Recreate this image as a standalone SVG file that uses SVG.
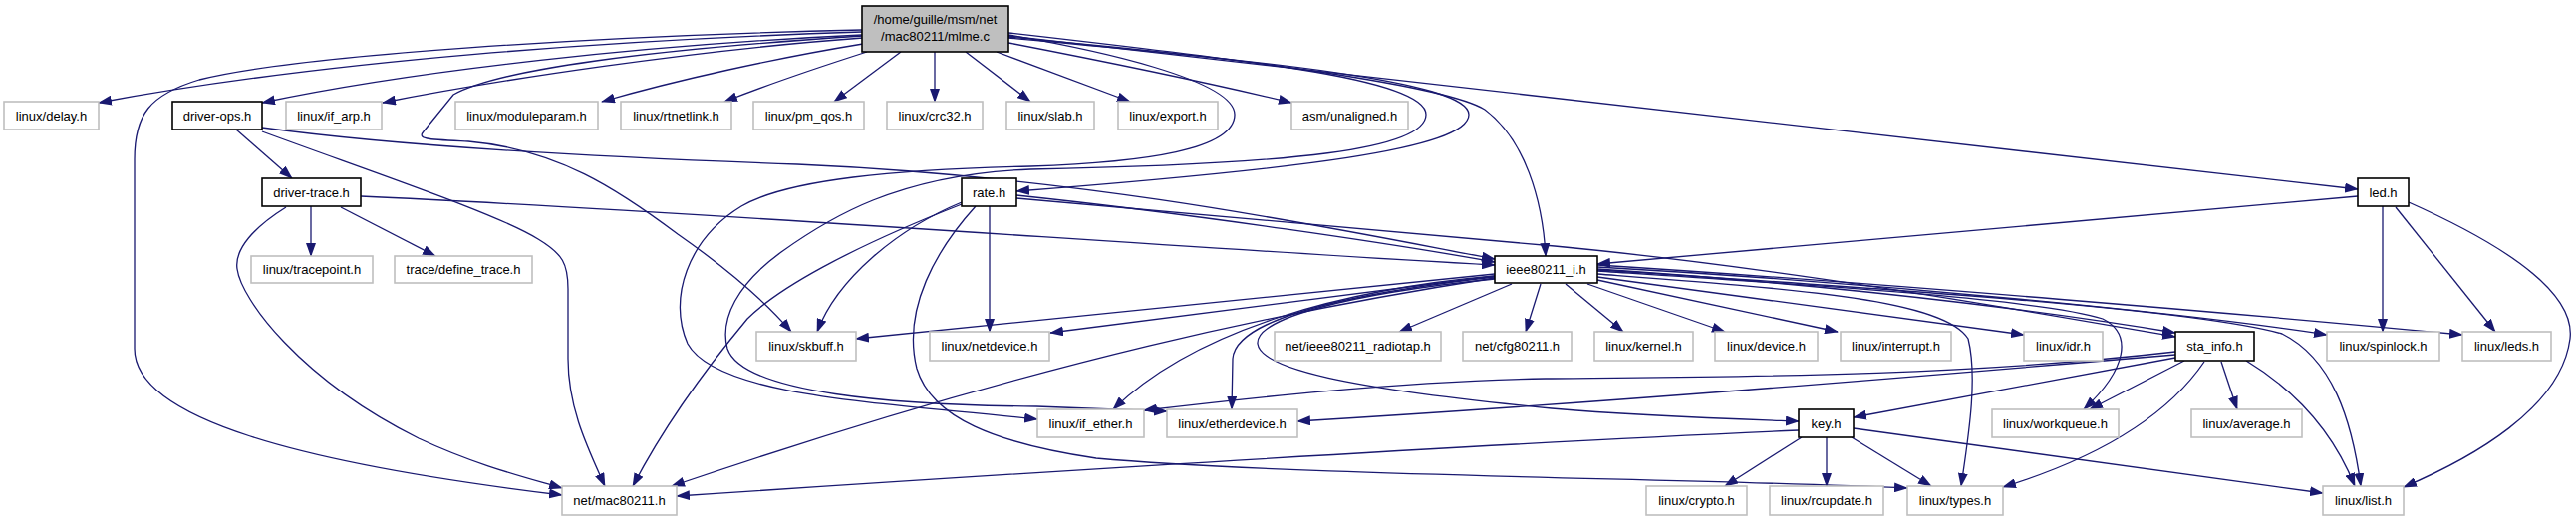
<svg xmlns="http://www.w3.org/2000/svg" width="2585" height="523" viewBox="0 0 2585 523">
<style>
.g rect{fill:#fff;stroke:#bfbfbf;stroke-width:1.6}
.b rect{fill:#fff;stroke:#000;stroke-width:1.6}
.m rect{fill:#bfbfbf;stroke:#000;stroke-width:1.6}
text{font-family:"Liberation Sans",Arial,sans-serif;font-size:13px;text-anchor:middle;fill:#000}
#edges path{fill:none;stroke:#191970;stroke-width:1.3;marker-end:url(#a)}
</style>
<defs>
<marker id="a" markerUnits="userSpaceOnUse" markerWidth="14" markerHeight="10" refX="13" refY="5" orient="auto"><path d="M0,0L14,5L0,10z" fill="#191970"/></marker>
</defs>
<rect width="2585" height="523" fill="#fff"/>
<g id="edges">
<path d="M865,32 C620,40 330,60 99,103"/>
<path d="M865,30 C600,36 300,55 200,80 C150,95 135,115 135,160 L135,350 C135,420 300,465 564,497"/>
<path d="M865,35 C650,45 420,70 263,103"/>
<path d="M866,38 C700,50 500,80 384,103"/>
<path d="M866,36 C650,50 500,70 455,95 L425,132 C418,140 430,140 470,142 C560,150 620,190 680,235 C730,270 770,305 794,333"/>
<path d="M866,44 C780,58 680,80 604,102"/>
<path d="M870,52 C820,68 770,85 727,102"/>
<path d="M904,52 L837,102"/>
<path d="M938,52 L938,102"/>
<path d="M969,52 L1034,102"/>
<path d="M1000,52 L1134,102"/>
<path d="M1012,43 C1100,60 1200,80 1296,103"/>
<path d="M1012,33 C1250,60 1450,85 1490,110 C1530,140 1548,200 1551,257"/>
<path d="M1012,36 L2366,190"/>
<path d="M1012,35 C1100,50 1239,80 1239,115 C1239,150 1150,163 1034,167 C900,170 790,180 744,207 C690,240 670,300 690,345 C720,400 900,405 1041,421"/>
<path d="M1012,37 C1200,55 1431,75 1431,115 C1431,150 1300,165 1034,170 C900,175 830,220 784,253 C740,285 722,320 730,350 C745,395 900,407 1040,408 L1171,413"/>
<path d="M1012,38 C1250,60 1474,80 1474,115 C1474,150 1300,170 1020,192"/>
<path d="M237,130 L293,179"/>
<path d="M263,132 C380,175 500,215 540,240 C565,255 570,265 570,290 L570,360 C570,410 590,450 607,488"/>
<path d="M263,128 C400,147 600,158 800,165 C1100,178 1350,232 1500,260"/>
<path d="M312,207 L312,257"/>
<path d="M342,208 L437,257"/>
<path d="M362,197 C700,212 1200,250 1500,266"/>
<path d="M287,208 C255,228 235,250 238,270 C242,300 300,380 420,440 C480,468 530,480 564,490"/>
<path d="M1020,196 C1200,215 1400,245 1500,263"/>
<path d="M1020,199 C1300,225 1500,243 1560,247 C1800,270 2050,315 2183,338"/>
<path d="M965,203 C900,230 840,280 820,333"/>
<path d="M993,207 L993,333"/>
<path d="M965,205 C850,250 780,290 750,320 C700,380 660,440 635,488"/>
<path d="M979,207 C940,250 905,310 920,370 C935,420 1000,445 1100,460 C1300,478 1700,480 1914,490"/>
<path d="M1517,285 L1404,333"/>
<path d="M1546,285 L1531,333"/>
<path d="M1571,285 L1629,333"/>
<path d="M1593,285 L1731,333"/>
<path d="M1603,281 L1844,333"/>
<path d="M1603,278 L2031,336"/>
<path d="M1603,275 C1800,290 1950,300 1975,340 C1985,380 1975,440 1968,488"/>
<path d="M1603,272 C1800,285 2050,300 2110,320 C2140,335 2135,370 2091,411"/>
<path d="M1603,270 C1900,290 2100,320 2183,334"/>
<path d="M1603,268 C1900,285 2200,315 2335,336"/>
<path d="M1603,266 C1900,285 2250,315 2471,336"/>
<path d="M1603,271 C1900,290 2200,310 2290,335 C2340,360 2360,420 2369,488"/>
<path d="M1500,275 L859,340"/>
<path d="M1500,277 L1054,334"/>
<path d="M1500,279 C1300,310 1050,360 674,488"/>
<path d="M1500,277 C1350,290 1200,330 1117,411"/>
<path d="M1500,278 C1350,295 1240,320 1237,360 L1236,411"/>
<path d="M1500,280 C1350,295 1260,320 1262,345 C1265,370 1350,390 1557,410 C1650,418 1750,421 1805,423"/>
<path d="M2366,197 L1603,265"/>
<path d="M2391,207 L2391,333"/>
<path d="M2404,208 L2504,333"/>
<path d="M2417,203 C2500,240 2585,290 2579,340 C2570,410 2480,460 2412,489"/>
<path d="M2183,359 L1860,419"/>
<path d="M2192,362 L2097,411"/>
<path d="M2229,363 L2245,411"/>
<path d="M2212,363 C2180,410 2120,455 2010,489"/>
<path d="M2254,362 C2300,390 2340,430 2363,488"/>
<path d="M2183,353 C1950,380 1700,378 1551,380 C1400,383 1250,400 1148,412"/>
<path d="M2183,356 C1900,380 1600,405 1302,423"/>
<path d="M1808,439 L1731,488"/>
<path d="M1833,439 L1833,488"/>
<path d="M1858,439 L1938,488"/>
<path d="M1860,430 L2331,495"/>
<path d="M1805,432 C1500,445 1100,470 679,498"/>
</g>
<g id="n_main" class="m"><rect x="865" y="6" width="147" height="46"/><text x="938.5" y="24">/home/guille/msm/net</text><text x="938.5" y="41">/mac80211/mlme.c</text></g>
<g id="n_delay" class="g"><rect x="4" y="102" width="95" height="28"/><text x="51.5" y="121">linux/delay.h</text></g>
<g id="n_driverops" class="b"><rect x="173" y="102" width="90" height="28"/><text x="218" y="121">driver-ops.h</text></g>
<g id="n_ifarp" class="g"><rect x="287" y="102" width="96" height="28"/><text x="335" y="121">linux/if_arp.h</text></g>
<g id="n_moduleparam" class="g"><rect x="457" y="102" width="143" height="28"/><text x="528.5" y="121">linux/moduleparam.h</text></g>
<g id="n_rtnetlink" class="g"><rect x="623" y="102" width="111" height="28"/><text x="678.5" y="121">linux/rtnetlink.h</text></g>
<g id="n_pmqos" class="g"><rect x="756" y="102" width="111" height="28"/><text x="811.5" y="121">linux/pm_qos.h</text></g>
<g id="n_crc32" class="g"><rect x="890" y="102" width="96" height="28"/><text x="938" y="121">linux/crc32.h</text></g>
<g id="n_slab" class="g"><rect x="1010" y="102" width="88" height="28"/><text x="1054" y="121">linux/slab.h</text></g>
<g id="n_export" class="g"><rect x="1122" y="102" width="100" height="28"/><text x="1172" y="121">linux/export.h</text></g>
<g id="n_unaligned" class="g"><rect x="1296" y="102" width="117" height="28"/><text x="1354.5" y="121">asm/unaligned.h</text></g>
<g id="n_drivertrace" class="b"><rect x="263" y="179" width="99" height="28"/><text x="312.5" y="198">driver-trace.h</text></g>
<g id="n_rate" class="b"><rect x="965" y="179" width="55" height="28"/><text x="992.5" y="198">rate.h</text></g>
<g id="n_led" class="b"><rect x="2366" y="179" width="51" height="28"/><text x="2391.5" y="198">led.h</text></g>
<g id="n_tracepoint" class="g"><rect x="252" y="257" width="122" height="27"/><text x="313" y="275">linux/tracepoint.h</text></g>
<g id="n_definetrace" class="g"><rect x="396" y="257" width="138" height="27"/><text x="465" y="275">trace/define_trace.h</text></g>
<g id="n_ieee" class="b"><rect x="1500" y="257" width="103" height="27"/><text x="1551.5" y="275">ieee80211_i.h</text></g>
<g id="n_skbuff" class="g"><rect x="759" y="333" width="100" height="29"/><text x="809" y="352">linux/skbuff.h</text></g>
<g id="n_netdevice" class="g"><rect x="933" y="333" width="120" height="29"/><text x="993" y="352">linux/netdevice.h</text></g>
<g id="n_radiotap" class="g"><rect x="1279" y="333" width="167" height="29"/><text x="1362.5" y="352">net/ieee80211_radiotap.h</text></g>
<g id="n_cfg80211" class="g"><rect x="1468" y="333" width="109" height="29"/><text x="1522.5" y="352">net/cfg80211.h</text></g>
<g id="n_kernel" class="g"><rect x="1600" y="333" width="99" height="29"/><text x="1649.5" y="352">linux/kernel.h</text></g>
<g id="n_device" class="g"><rect x="1721" y="333" width="103" height="29"/><text x="1772.5" y="352">linux/device.h</text></g>
<g id="n_interrupt" class="g"><rect x="1847" y="333" width="111" height="29"/><text x="1902.5" y="352">linux/interrupt.h</text></g>
<g id="n_idr" class="g"><rect x="2031" y="333" width="79" height="29"/><text x="2070.5" y="352">linux/idr.h</text></g>
<g id="n_stainfo" class="b"><rect x="2183" y="333" width="79" height="29"/><text x="2222.5" y="352">sta_info.h</text></g>
<g id="n_spinlock" class="g"><rect x="2335" y="333" width="113" height="29"/><text x="2391.5" y="352">linux/spinlock.h</text></g>
<g id="n_leds" class="g"><rect x="2471" y="333" width="89" height="29"/><text x="2515.5" y="352">linux/leds.h</text></g>
<g id="n_ifether" class="g"><rect x="1041" y="411" width="107" height="28"/><text x="1094.5" y="430">linux/if_ether.h</text></g>
<g id="n_etherdevice" class="g"><rect x="1171" y="411" width="131" height="28"/><text x="1236.5" y="430">linux/etherdevice.h</text></g>
<g id="n_key" class="b"><rect x="1805" y="411" width="55" height="28"/><text x="1832.5" y="430">key.h</text></g>
<g id="n_workqueue" class="g"><rect x="1999" y="411" width="127" height="28"/><text x="2062.5" y="430">linux/workqueue.h</text></g>
<g id="n_average" class="g"><rect x="2199" y="411" width="111" height="28"/><text x="2254.5" y="430">linux/average.h</text></g>
<g id="n_mac80211" class="g"><rect x="564" y="488" width="115" height="29"/><text x="621.5" y="507">net/mac80211.h</text></g>
<g id="n_crypto" class="g"><rect x="1652" y="488" width="101" height="29"/><text x="1702.5" y="507">linux/crypto.h</text></g>
<g id="n_rcupdate" class="g"><rect x="1776" y="488" width="114" height="29"/><text x="1833" y="507">linux/rcupdate.h</text></g>
<g id="n_types" class="g"><rect x="1914" y="488" width="96" height="29"/><text x="1962" y="507">linux/types.h</text></g>
<g id="n_list" class="g"><rect x="2331" y="488" width="81" height="29"/><text x="2371.5" y="507">linux/list.h</text></g>
</svg>
